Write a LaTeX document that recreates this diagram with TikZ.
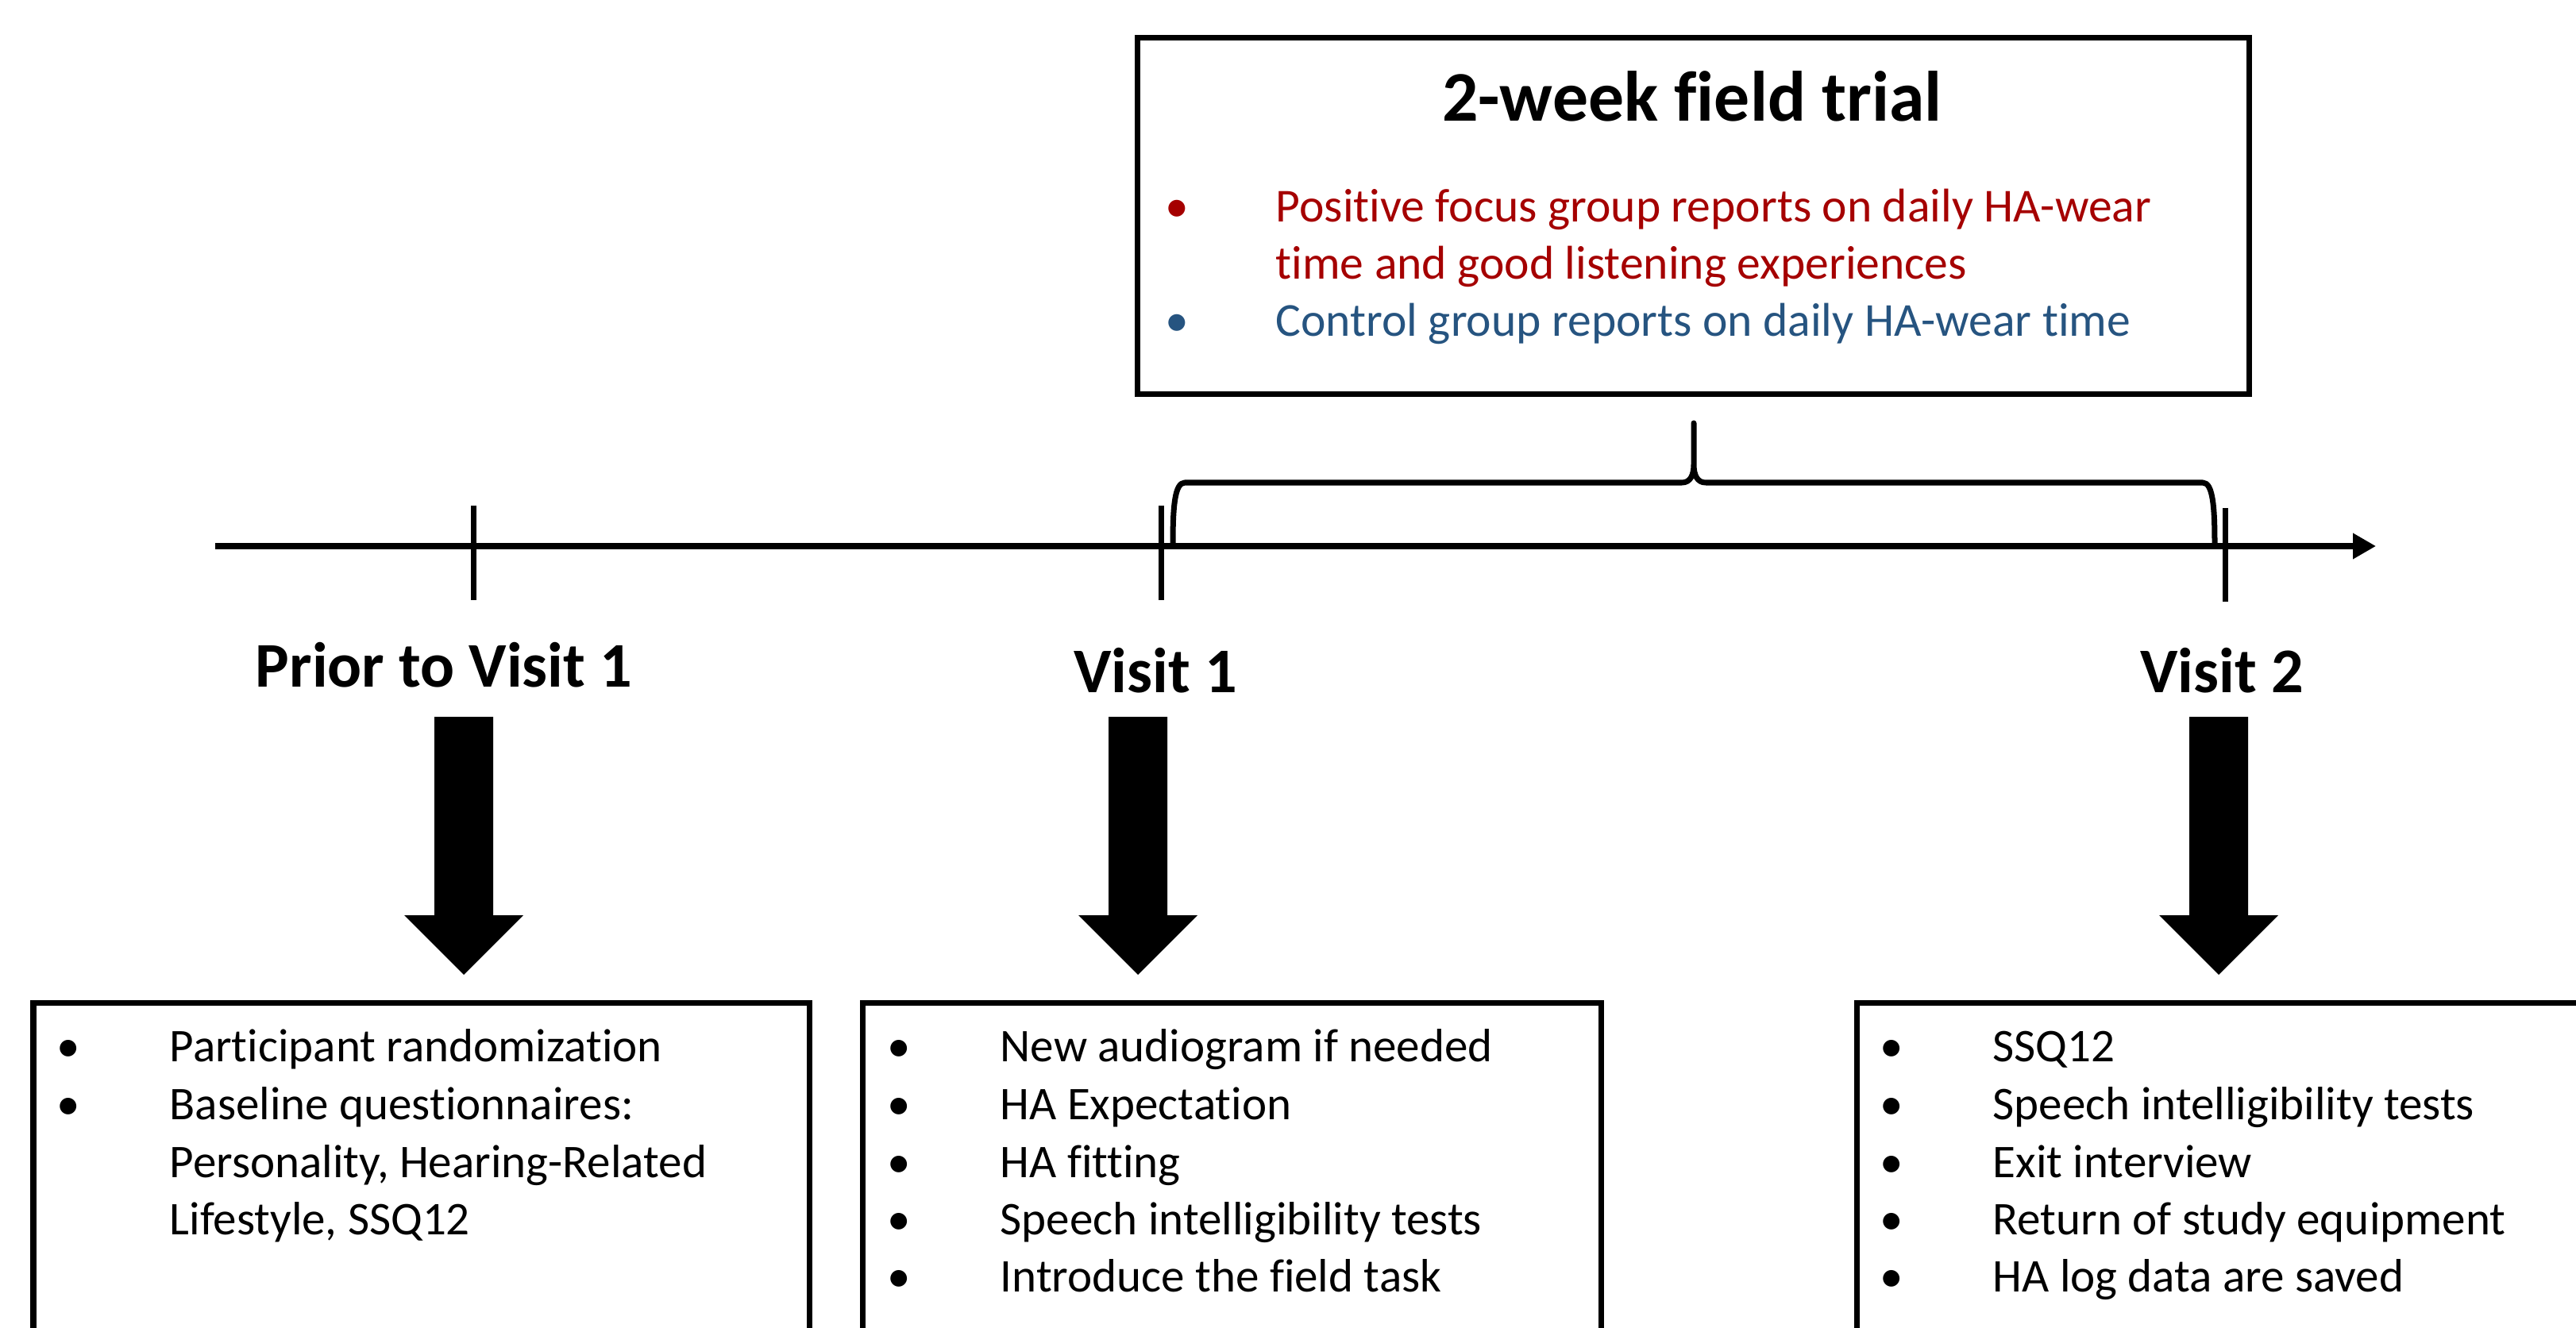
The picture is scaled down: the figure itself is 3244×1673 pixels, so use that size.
\documentclass[tikz,border=0pt]{standalone}
\usepackage{fontspec}
\setmainfont{Carlito}[Ligatures=NoCommon]
\usetikzlibrary{arrows.meta}
\definecolor{fgred}{RGB}{165,0,0}
\definecolor{fgblue}{RGB}{38,84,128}
\begin{document}
\begin{tikzpicture}[x=0.01cm,y=-0.01cm,
  lw/.style={line width=0.07cm},
  body/.style={anchor=base west,inner sep=0pt,font=\fontsize{16.8pt}{20.8pt}\selectfont},
  bul/.style={anchor=base,inner sep=0pt,font=\fontsize{16.8pt}{20.8pt}\selectfont},
  topbody/.style={anchor=base west,inner sep=0pt,font=\fontsize{16.95pt}{21pt}\selectfont},
  topbul/.style={anchor=base,inner sep=0pt,font=\fontsize{16.95pt}{21pt}\selectfont},
  lab/.style={anchor=base,inner sep=0pt,font=\fontsize{22.8pt}{27pt}\selectfont\bfseries},
  ttl/.style={anchor=base,inner sep=0pt,font=\fontsize{25.5pt}{30pt}\selectfont\bfseries},
  boxline/.style={draw,lw,line join=miter},
  bigarrow/.style={fill=black}]
\useasboundingbox (0,0) rectangle (3244,1673);
\clip (0,0) rectangle (3244,1673);

% top box
\draw[boxline] (1432,48) rectangle (2832,497);
\node[ttl] (title) at (2131,153) {2-week field trial};
\node[topbul,text=fgred] (tb1) at (1482,280) {•};
\node[topbody,text=fgred] (tt1) at (1606,280) {Positive focus group reports on daily HA-wear};
\node[topbody,text=fgred] (tt2) at (1606,352) {time and good listening experiences};
\node[topbul,text=fgblue] (tb2) at (1482,424) {•};
\node[topbody,text=fgblue] (tt3) at (1606,424) {Control group reports on daily HA-wear time};

% timeline
\coordinate (tl0) at (271,688);
\coordinate (tl1) at (2992,688);
\draw[lw,-{Triangle[length=0.29cm,width=0.31cm]}] (tl0) -- (tl1);
\coordinate (tk0a) at (596,637); \coordinate (tk0b) at (596,756);
\coordinate (tk1a) at (1462,637); \coordinate (tk1b) at (1462,756);
\coordinate (tk2a) at (2802,640); \coordinate (tk2b) at (2802,758);
\draw[lw] (tk0a) -- (tk0b);
\draw[lw] (tk1a) -- (tk1b);
\draw[lw] (tk2a) -- (tk2b);

% brace
\draw[lw,line cap=butt,line join=round]
  (1477,686) .. controls (1477,640) and (1479,608) .. (1492,608)
  -- (2118,608) .. controls (2129,608) and (2133,598) .. (2133,585)
  -- (2133,533) -- (2133,585)
  .. controls (2133,598) and (2137,608) .. (2148,608)
  -- (2774,608) .. controls (2787,608) and (2789,640) .. (2789,686);

% labels
\node[lab] (l0) at (559,866) {Prior to Visit 1};
\node[lab] (l1) at (1455,873) {Visit 1};
\node[lab] (l2) at (2798,872) {Visit 2};

% big arrows
\foreach \c in {584,1433,2794}{
  \fill[bigarrow] (\c-37,903) -- (\c+37,903) -- (\c+37,1153) -- (\c+75,1153)
    -- (\c,1228) -- (\c-75,1153) -- (\c-37,1153) -- cycle;
}

% bottom boxes
\draw[boxline] (42,1263) rectangle (1019,1760);
\draw[boxline] (1086,1263) rectangle (2016,1760);
\draw[boxline] (2338,1263) rectangle (3320,1760);

% box 1
\node[bul] (a1) at (86,1337) {•};
\node[body] (at1) at (213,1337) {Participant randomization};
\node[bul] (a2) at (86,1410) {•};
\node[body] (at2) at (213,1410) {Baseline questionnaires:};
\node[body] (at3) at (213,1483) {Personality, Hearing-Related};
\node[body] (at4) at (213,1555) {Lifestyle, SSQ12};

% box 2
\node[bul] (b1) at (1132,1337) {•};
\node[body] (bt1) at (1259,1337) {New audiogram if needed};
\node[bul] (b2) at (1132,1410) {•};
\node[body] (bt2) at (1259,1410) {HA Expectation};
\node[bul] (b3) at (1132,1483) {•};
\node[body] (bt3) at (1259,1483) {HA fitting};
\node[bul] (b4) at (1132,1555) {•};
\node[body] (bt4) at (1259,1555) {Speech intelligibility tests};
\node[bul] (b5) at (1132,1627) {•};
\node[body] (bt5) at (1259,1627) {Introduce the field task};

% box 3
\node[bul] (c1) at (2382,1337) {•};
\node[body] (ct1) at (2509,1337) {SSQ12};
\node[bul] (c2) at (2382,1410) {•};
\node[body] (ct2) at (2509,1410) {Speech intelligibility tests};
\node[bul] (c3) at (2382,1483) {•};
\node[body] (ct3) at (2509,1483) {Exit interview};
\node[bul] (c4) at (2382,1555) {•};
\node[body] (ct4) at (2509,1555) {Return of study equipment};
\node[bul] (c5) at (2382,1627) {•};
\node[body] (ct5) at (2509,1627) {HA log data are saved};
\end{tikzpicture}
\end{document}
